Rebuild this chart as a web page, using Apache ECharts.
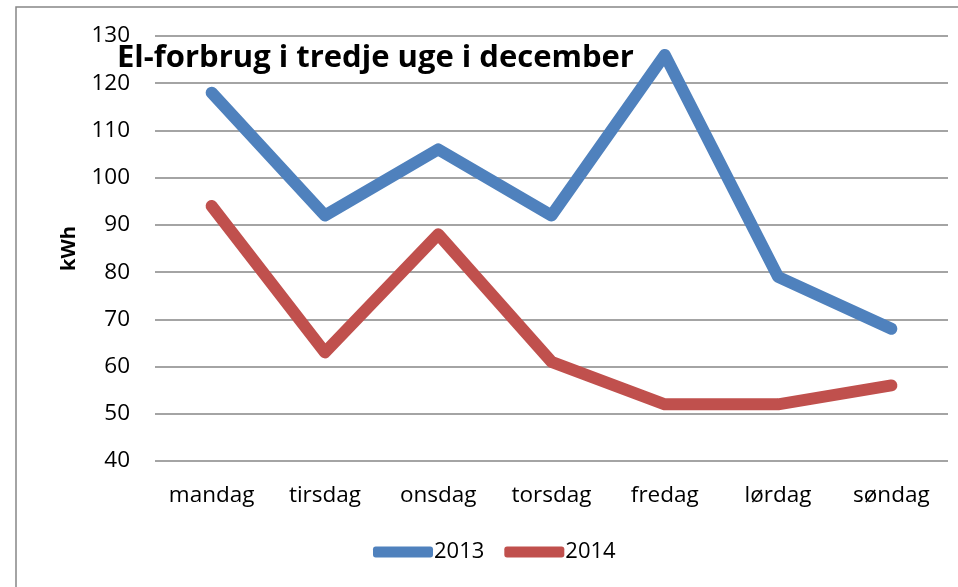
<!DOCTYPE html>
<html>
<head>
<meta charset="utf-8">
<script src="https://cdn.jsdelivr.net/npm/echarts@6/dist/echarts.min.js"></script>
<style>
  html, body { margin: 0; padding: 0; background: #fff; }
  #chart { width: 958px; height: 587px; }
</style>
</head>
<body>
<div id="chart"></div>
<script>
// ugedage og forbrug (kWh)
const dage = ['mandag', 'tirsdag', 'onsdag', 'torsdag', 'fredag', 'lørdag', 'søndag'];
const forbrug2013 = [118, 92, 106, 92, 126, 79, 68];
const forbrug2014 = [94, 63, 88, 61, 52, 52, 56];
const aar = ['2013', '2014'];

const font = '"Open Sans", Lato, sans-serif';

const chart = echarts.init(document.getElementById('chart'));

const option = {
  backgroundColor: '#fff',
  animation: false,
  title: {
    text: 'El-forbrug i tredje uge i december',
    left: 112,
    top: 38,
    textStyle: { fontFamily: font, fontSize: 31, fontWeight: 'bold', color: '#000' }
  },
  legend: {
    data: aar,
    bottom: 19,
    left: 368,
    itemWidth: 60,
    itemHeight: 11,
    itemGap: 20,
    icon: 'roundRect',
    textStyle: { fontFamily: font, fontSize: 22, color: '#000', padding: [0, 0, 0, -4] }
  },
  grid: { left: 155, right: 10, top: 36, bottom: 126 },
  xAxis: {
    type: 'category',
    data: dage,
    boundaryGap: true,
    axisLine: { show: false },
    axisTick: { show: false },
    axisLabel: { fontFamily: font, fontSize: 22.5, color: '#000', margin: 23 }
  },
  yAxis: {
    type: 'value',
    min: 40,
    max: 130,
    interval: 10,
    name: 'kWh',
    nameLocation: 'middle',
    nameGap: 76,
    nameRotate: 90,
    nameTextStyle: { fontFamily: font, fontSize: 20, fontWeight: 'bold', color: '#000' },
    axisLine: { show: false },
    axisTick: { show: false },
    axisLabel: { fontFamily: font, fontSize: 22.5, color: '#000', margin: 25 },
    splitLine: { lineStyle: { color: '#868686', width: 1.5 } }
  },
  series: [
    {
      name: aar[0],
      type: 'line',
      data: forbrug2013,
      symbol: 'none',
      color: '#4F81BD',
      lineStyle: { width: 12, cap: 'round', join: 'round' }
    },
    {
      name: aar[1],
      type: 'line',
      data: forbrug2014,
      symbol: 'none',
      color: '#C0504D',
      lineStyle: { width: 12, cap: 'round', join: 'round' }
    }
  ],
  graphic: [
    {
      type: 'rect',
      shape: { x: 16, y: 7, width: 960, height: 600 },
      style: { fill: 'none', stroke: '#868686', lineWidth: 1.5 }
    }
  ]
};

chart.setOption(option);
</script>
</body>
</html>
